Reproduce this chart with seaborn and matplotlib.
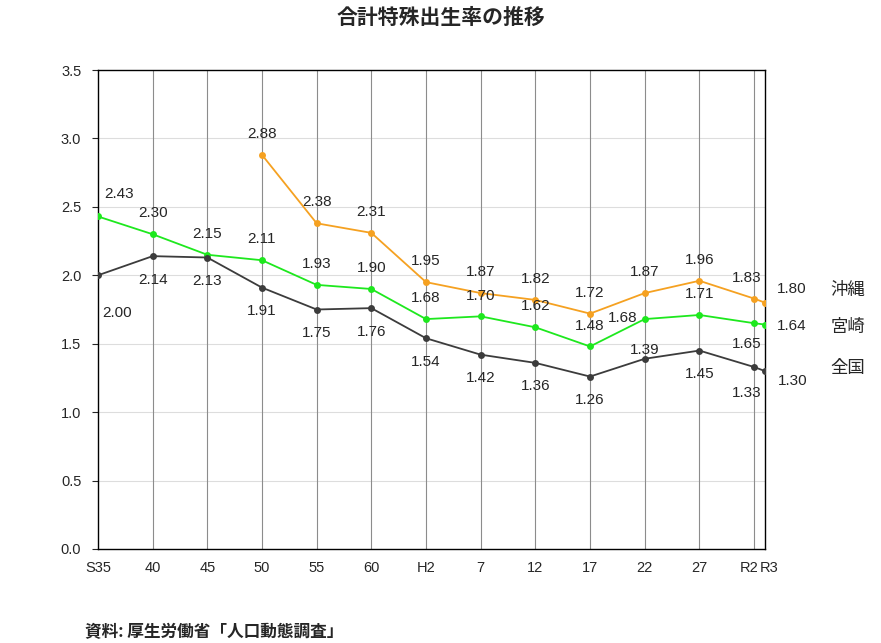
import numpy as np
import pandas as pd
import matplotlib
matplotlib.use('Agg')
import matplotlib.pyplot as plt
import matplotlib.transforms as mtransforms
import seaborn as sns

# data
years = [1960, 1965, 1970, 1975, 1980, 1985, 1990, 1995, 2000, 2005, 2010, 2015, 2020, 2021]
year_labels = ['S35', '40', '45', '50', '55', '60', 'H2', '7', '12', '17', '22', '27', 'R2', 'R3']
zenkoku = [2.00, 2.14, 2.13, 1.91, 1.75, 1.76, 1.54, 1.42, 1.36, 1.26, 1.39, 1.45, 1.33, 1.30]
miyazaki = [2.43, 2.30, 2.15, 2.11, 1.93, 1.90, 1.68, 1.70, 1.62, 1.48, 1.68, 1.71, 1.65, 1.64]
okinawa = [np.nan, np.nan, np.nan, 2.88, 2.38, 2.31, 1.95, 1.87, 1.82, 1.72, 1.87, 1.96, 1.83, 1.80]
series_names = ['沖縄', '宮崎', '全国']
colors = {'沖縄': '#F5A121', '宮崎': '#1EE81E', '全国': '#3C3C3C'}

df = pd.DataFrame({'year': years, '沖縄': okinawa, '宮崎': miyazaki, '全国': zenkoku})
long_df = df.melt(id_vars='year', var_name='series', value_name='rate').dropna()

sns.set_style('white')
plt.rcParams['font.family'] = ['Noto Sans CJK JP', 'DejaVu Sans']
num_font = ['Liberation Sans', 'DejaVu Sans']

fig = plt.figure(figsize=(8.81, 6.43), dpi=100)
ax = fig.add_axes([0.1112, 0.1462, 0.7571, 0.7449])

sns.lineplot(data=long_df, x='year', y='rate', hue='series', hue_order=series_names,
             palette=colors, marker='o', markersize=5, markeredgewidth=0,
             linewidth=1.3, legend=False, ax=ax, zorder=3)

ax.set_xlim(1960, 2021)
ax.set_ylim(0, 3.5)
ax.set_xticks(years)
ax.set_xticklabels(year_labels, fontsize=10.5, family=num_font)
ax.set_yticks(np.arange(0, 3.51, 0.5))
ax.set_yticklabels([f'{v:.1f}' for v in np.arange(0, 3.51, 0.5)], fontsize=10.5, family=num_font)
ax.tick_params(axis='y', length=4, width=0.8, direction='out', left=True, pad=8)
ax.tick_params(axis='x', length=0, pad=9)
ax.set_xlabel('')
ax.set_ylabel('')

# R2 / R3 labels sit close together; nudge them apart
xt = ax.get_xticklabels()
xt[-2].set_transform(xt[-2].get_transform() + mtransforms.ScaledTranslation(-5 / 100, 0, fig.dpi_scale_trans))
xt[-1].set_transform(xt[-1].get_transform() + mtransforms.ScaledTranslation(4 / 100, 0, fig.dpi_scale_trans))

for yv in np.arange(0.5, 3.5, 0.5):
    ax.axhline(yv, color='#DDDDDD', linewidth=0.8, zorder=0)
for xv in years[1:-1]:
    ax.axvline(xv, color='#8C8C8C', linewidth=0.8, zorder=1)
for sp in ax.spines.values():
    sp.set_color('black')
    sp.set_linewidth(1.0)


def label(x, y, text, dx=0, dy=0):
    ax.annotate(text, (x, y), xytext=(dx, dy), textcoords='offset points',
                ha='center', va='center', fontsize=11, family=num_font, zorder=4)


# 沖縄 labels (above)
for x, v in zip(years, okinawa):
    if np.isnan(v):
        continue
    if x == 2021:
        label(x, v, f'{v:.2f}', 19, 10)
    elif x == 2020:
        label(x, v, f'{v:.2f}', -5, 15)
    else:
        label(x, v, f'{v:.2f}', 0, 15)

# 宮崎 labels (above, some exceptions)
for x, v in zip(years, miyazaki):
    if x == 1960:
        label(x, v, f'{v:.2f}', 15, 16)
    elif x == 2021:
        label(x, v, f'{v:.2f}', 19, -1)
    elif x == 2020:
        label(x, v, f'{v:.2f}', -5, -15)
    elif x == 2010:
        label(x, v, f'{v:.2f}', -16, 1)
    else:
        label(x, v, f'{v:.2f}', 0, 15)

# 全国 labels (below)
for x, v in zip(years, zenkoku):
    if x == 1960:
        label(x, v, f'{v:.2f}', 14, -27)
    elif x == 2021:
        label(x, v, f'{v:.2f}', 20, -7)
    elif x == 2020:
        label(x, v, f'{v:.2f}', -5, -19)
    elif x == 2010:
        label(x, v, f'{v:.2f}', 0, 6)
    else:
        label(x, v, f'{v:.2f}', 0, -17)

# series names on the right
for name, ypix in zip(series_names, [290, 327, 368]):
    fig.text(848 / 881, 1 - ypix / 643, name, ha='center', va='center', fontsize=12.5)

fig.text(0.5, 1 - 17 / 643, '合計特殊出生率の推移', ha='center', va='center',
         fontsize=15, fontweight='bold')
fig.text(85 / 881, 1 - 632 / 643, '資料: 厚生労働省「人口動態調査」', ha='left', va='center',
         fontsize=12, fontweight='bold')

fig.savefig('out.png', dpi=100)
